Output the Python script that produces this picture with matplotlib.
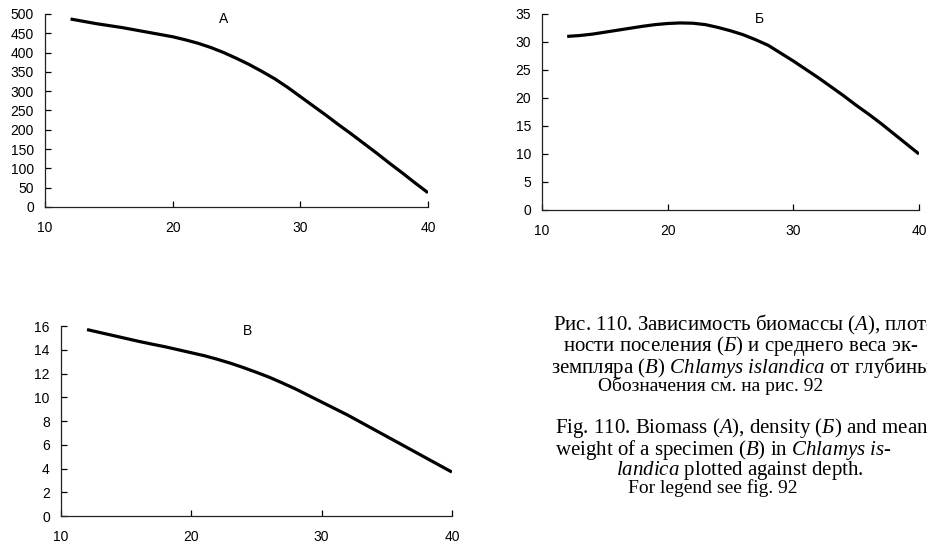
import matplotlib
matplotlib.use("Agg")
import matplotlib.pyplot as plt

plt.rcParams['font.family'] = ['Liberation Sans', 'DejaVu Sans']
plt.rcParams['mathtext.fontset'] = 'custom'
plt.rcParams['mathtext.rm'] = 'Liberation Serif'
plt.rcParams['mathtext.it'] = 'Liberation Serif:italic'

# depth, m
depth = list(range(12, 41))
# A - biomass
biomass = [487, 481, 475, 470, 465, 459, 453, 447, 441, 433,
           424, 413, 400, 385, 369, 351, 332, 310, 286, 262,
           238, 213, 189, 164, 139, 113, 88, 62, 37]
# Б - density
density = [31.0, 31.15, 31.4, 31.75, 32.1, 32.45, 32.8, 33.1, 33.3, 33.4,
           33.35, 33.1, 32.6, 32.0, 31.3, 30.4, 29.4, 28.0, 26.6, 25.1,
           23.6, 22.0, 20.4, 18.7, 17.1, 15.4, 13.6, 11.8, 10.0]
# В - mean weight
weight = [15.7, 15.45, 15.2, 14.95, 14.7, 14.47, 14.25, 14.0, 13.75, 13.5,
          13.2, 12.87, 12.5, 12.1, 11.68, 11.2, 10.7, 10.15, 9.6, 9.05,
          8.5, 7.9, 7.3, 6.7, 6.1, 5.5, 4.9, 4.3, 3.7]

x_ticks = [10, 20, 30, 40]
yticks_a = list(range(0, 501, 50))
yticks_b = list(range(0, 36, 5))
yticks_c = list(range(0, 17, 2))

fig = plt.figure(figsize=(9.28, 5.46), dpi=100)


def panel(rect, y, yticks, letter, lx):
    ax = fig.add_axes(rect)
    ax.plot(depth, y, color='black', lw=2.3, solid_capstyle='butt')
    ax.set_xlim(10, 40)
    ax.set_ylim(yticks[0], yticks[-1])
    ax.set_xticks(x_ticks)
    ax.set_yticks(yticks)
    for s in ['top', 'right']:
        ax.spines[s].set_visible(False)
    for s in ['left', 'bottom']:
        ax.spines[s].set_linewidth(0.9)
        ax.spines[s].set_color('#222222')
    ax.tick_params(axis='x', direction='in', length=4, width=0.9, pad=10, labelsize=10)
    ax.tick_params(axis='y', direction='in', length=4, width=0.9, pad=8, labelsize=10)
    ax.patch.set_alpha(0)
    ax.text(lx, 0.974, letter, transform=ax.transAxes, ha='center', va='center', fontsize=10)
    return ax


panel([0.0485, 0.6209, 0.4127, 0.3535], biomass, yticks_a, 'А', 0.465)
panel([0.5841, 0.6154, 0.4062, 0.3590], density, yticks_b, 'Б', 0.576)
panel([0.0657, 0.0549, 0.4213, 0.3480], weight, yticks_c, 'В', 0.476)

# caption
serif = ['Liberation Serif', 'DejaVu Serif']
caption = [
    (553, 322, r"Рис. 110. Зависимость биомассы ($\mathit{А}$), плот-", 15),
    (563, 343, r"ности поселения ($\mathit{Б}$) и среднего веса эк-", 15),
    (551, 364, r"земпляра ($\mathit{В}$) $\mathit{Chlamys\ islandica}$ от глубины", 15),
    (598, 384, "Обозначения см. на рис. 92", 14),
    (555, 425, r"Fig. 110. Biomass ($\mathit{А}$), density ($\mathit{Б}$) and mean", 15),
    (555, 446, r"weight of a specimen ($\mathit{В}$) in $\mathit{Chlamys\ is}$-", 15),
    (616, 467, r"$\mathit{landica}$ plotted against depth.", 15),
    (628, 486, "For legend see fig. 92", 14),
]
for px, py, txt, fs in caption:
    fig.text(px / 928, 1 - py / 546, txt, ha='left', va='center_baseline',
             fontsize=fs, family=serif, color='black')

fig.savefig('out.png', dpi=100)
